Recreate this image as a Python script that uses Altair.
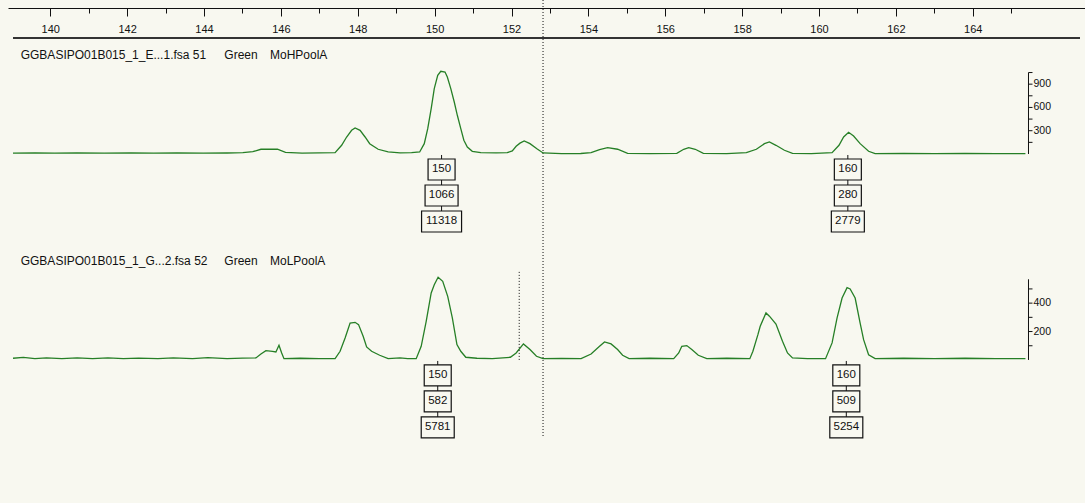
import altair as alt
import pandas as pd

# ---------------- size axis (bp) ----------------
x_min = 139.03          # left edge of the traces
x_max = 166.79          # right edge of the window
x_rfu_axis = 165.45     # where the RFU axes sit
cursor_bp = 152.82      # dotted cursor line

ruler_major = [140, 142, 144, 146, 148, 150, 152, 154, 156, 158, 160, 162, 164]
ruler_minor = [141, 143, 145, 147, 149, 151, 153, 155, 157, 159, 161, 163, 165]

# ---------------- sample 51 (MoHPoolA) ----------------
s1_name = "GGBASIPO01B015_1_E...1.fsa 51"
s1_dye = "Green"
s1_panel = "MoHPoolA"
s1_bp = [139.03, 139.60, 140.11, 140.70, 141.40, 142.10, 142.69, 143.30, 143.98, 144.60,
         145.01, 145.27, 145.48, 145.91, 146.12, 146.55, 147.00, 147.41, 147.58, 147.71,
         147.84, 147.93, 148.06, 148.19, 148.31, 148.53, 148.79, 149.10, 149.40, 149.61,
         149.73, 149.82, 149.91, 149.99, 150.08, 150.16, 150.27, 150.33, 150.42, 150.51,
         150.59, 150.68, 150.76, 150.85, 150.98, 151.20, 151.60, 151.89, 152.02, 152.12,
         152.22, 152.33, 152.48, 152.66, 152.82, 153.30, 153.80, 154.07, 154.29, 154.50,
         154.76, 155.02, 155.60, 156.30, 156.48, 156.61, 156.78, 156.99, 157.60, 158.11,
         158.37, 158.58, 158.71, 158.88, 159.10, 159.31, 159.80, 160.34, 160.52, 160.64,
         160.77, 160.90, 161.07, 161.29, 161.46, 162.20, 163.00, 163.80, 164.60, 165.37]
s1_rfu = [12, 14, 10, 14, 11, 14, 10, 13, 10, 13,
          17, 30, 61, 61, 22, 12, 14, 17, 112, 219,
          305, 335, 305, 219, 133, 61, 26, 14, 17, 26,
          133, 326, 584, 842, 1014, 1066, 1057, 993, 842, 670,
          499, 326, 177, 90, 35, 17, 14, 17, 40, 100,
          140, 168, 133, 68, 13, 5, 6, 17, 56, 81,
          61, 9, 5, 9, 61, 81, 61, 9, 5, 17,
          61, 133, 155, 112, 48, 9, 5, 17, 112, 219,
          280, 232, 133, 35, 4, 6, 5, 6, 5, 5]
s1_call_bp = [150.18, 160.75]
s1_size = ["150", "160"]
s1_height = ["1066", "280"]
s1_area = ["11318", "2779"]
s1_rfu_ticks = [150, 300, 450, 600, 750, 900, 1050]
s1_rfu_labels = ["300", "600", "900"]
s1_rfu_top = 1050

# ---------------- sample 52 (MoLPoolA) ----------------
s2_name = "GGBASIPO01B015_1_G...2.fsa 52"
s2_dye = "Green"
s2_panel = "MoLPoolA"
s2_bp = [139.03, 139.30, 139.60, 139.90, 140.30, 140.70, 141.10, 141.50, 141.90, 142.30,
         142.80, 143.20, 143.70, 144.10, 144.60, 145.00, 145.35, 145.48, 145.61, 145.78,
         145.87, 145.95, 146.02, 146.08, 146.50, 147.00, 147.41, 147.54, 147.67, 147.80,
         147.93, 148.02, 148.14, 148.23, 148.36, 148.57, 148.79, 149.10, 149.30, 149.52,
         149.65, 149.78, 149.91, 149.99, 150.09, 150.21, 150.34, 150.46, 150.58, 150.68,
         150.81, 151.10, 151.50, 151.97, 152.12, 152.31, 152.48, 152.65, 152.82, 153.30,
         153.81, 154.07, 154.29, 154.42, 154.59, 154.76, 154.89, 155.06, 155.60, 156.22,
         156.35, 156.43, 156.56, 156.69, 156.86, 157.08, 157.60, 158.20, 158.28, 158.41,
         158.47, 158.62, 158.71, 158.88, 159.05, 159.18, 159.31, 159.70, 160.17, 160.34,
         160.47, 160.60, 160.73, 160.81, 160.94, 161.07, 161.16, 161.29, 161.46, 162.20,
         163.00, 163.80, 164.60, 165.37]
s2_rfu = [12, 18, 10, 15, 9, 14, 10, 15, 9, 13,
          9, 14, 10, 16, 10, 13, 14, 42, 65, 61,
          56, 103, 49, 9, 12, 10, 9, 61, 155, 260,
          265, 249, 167, 92, 61, 33, 9, 14, 10, 9,
          96, 272, 472, 530, 582, 554, 448, 296, 108, 61,
          19, 12, 9, 19, 49, 113, 73, 26, 9, 11,
          9, 42, 96, 127, 113, 73, 33, 9, 12, 9,
          49, 96, 101, 73, 33, 9, 12, 9, 61, 178,
          237, 331, 308, 253, 132, 49, 14, 9, 9, 120,
          296, 436, 509, 500, 436, 260, 143, 37, 9, 12,
          9, 12, 9, 9]
s2_call_bp = [150.08, 160.71]
s2_size = ["150", "160"]
s2_height = ["582", "509"]
s2_area = ["5781", "5254"]
s2_rfu_ticks = [100, 200, 300, 400, 500]
s2_rfu_labels = ["200", "400"]
s2_rfu_top = 568
s2_bin_bp = [152.2]
s2_bin_top = [620]

# ---------------- styling ----------------
BG = "#f8f8f0"
TRACE = "#267f26"
INK = "#111111"
FONT = "Liberation Sans"

W, H = 1077, 503
ROW_OFFSETS = [15.5, 41.5, 67.5]    # label-box centres below the baseline (px)
BOX_H = 21
BOX_W = {3: 27, 4: 33, 5: 40}        # box width by number of digits

XS = alt.Scale(domain=[x_min, x_max], nice=False, zero=False)


def one_row():
    return pd.DataFrame({"k": [0]})


def ruler():
    major_axis = alt.Axis(orient="bottom", offset=8 - H, values=ruler_major, tickSize=8,
                          tickColor=INK, domainColor=INK, labelColor=INK, labelFont=FONT,
                          labelFontSize=11, labelPadding=7, grid=False, title=None,
                          labelFlush=False, labelOverlap=False)
    minor_axis = alt.Axis(orient="bottom", offset=8 - H, values=ruler_minor, tickSize=5,
                          tickColor=INK, labels=False, domain=False, grid=False, title=None)
    cur = pd.DataFrame({"bp": [cursor_bp]})
    cursor = alt.Chart(cur).mark_rule(color=INK, strokeDash=[1, 2]).encode(
        x=alt.X("bp:Q", scale=XS, axis=major_axis),
        y=alt.value(0), y2=alt.value(437))
    minor = alt.Chart(cur).mark_rule(opacity=0).encode(
        x=alt.X("bp:Q", scale=XS, axis=minor_axis),
        y=alt.value(0), y2=alt.value(1))
    edge = alt.Chart(one_row()).mark_rule(color="#333333", strokeWidth=2).encode(
        x=alt.X(datum=x_min, scale=XS, axis=None), x2=alt.X2(datum=x_max),
        y=alt.value(38))
    return alt.layer(cursor, minor, edge).resolve_axis(x="independent")


def panel(y_domain, header_y, bp, rfu, name, dye, pool, call_bp, size, hgt, area,
          ticks, labels, rfu_top, bin_bp=None, bin_top=None):
    ys = alt.Scale(domain=y_domain, nice=False, zero=False)

    def X(field="bp:Q"):
        return alt.X(field, scale=XS, axis=None)

    def Y0():
        return alt.Y(datum=0, scale=ys, axis=None)

    trace = alt.Chart(pd.DataFrame({"bp": bp, "rfu": rfu})).mark_line(
        color=TRACE, strokeWidth=1.3).encode(x=X(), y=alt.Y("rfu:Q", scale=ys, axis=None))
    layers = [trace]

    if bin_bp is not None:
        layers.append(alt.Chart(pd.DataFrame({"bp": bin_bp, "top": bin_top})).mark_rule(
            color=INK, strokeDash=[1, 2]).encode(
            x=X(), y=alt.Y("top:Q", scale=ys, axis=None), y2=alt.Y2(datum=0)))

    # RFU scale on the right: line, ticks and labels
    x_axis_pos = alt.X(datum=x_rfu_axis, scale=XS, axis=None)
    layers.append(alt.Chart(one_row()).mark_rule(color=INK).encode(
        x=x_axis_pos, y=Y0(), y2=alt.Y2(datum=rfu_top)))
    layers.append(alt.Chart(pd.DataFrame({"t": ticks})).mark_rule(
        color=INK, x2Offset=4).encode(
        x=x_axis_pos, x2=alt.X2(datum=x_rfu_axis), y=alt.Y("t:Q", scale=ys, axis=None)))
    layers.append(alt.Chart(pd.DataFrame({"lab": labels})).transform_calculate(
        v="toNumber(datum.lab)").mark_text(
        align="left", baseline="middle", dx=5, font=FONT, fontSize=10.5, color=INK).encode(
        x=x_axis_pos, y=alt.Y("v:Q", scale=ys, axis=None), text="lab:N"))

    # sample header
    for txt, px in [(name, 12.7), (dye, 216.3), (pool, 262.0)]:
        layers.append(alt.Chart(one_row()).mark_text(
            text=txt, align="left", baseline="middle", font=FONT, fontSize=12, color=INK
        ).encode(x=alt.value(px), y=alt.value(header_y)))

    # allele call boxes: size / peak height / area
    calls = pd.DataFrame({"bp": call_bp, "c_size": size, "c_peak": hgt, "c_area": area})
    layers.append(alt.Chart(calls).mark_rule(
        color=INK, yOffset=1, y2Offset=ROW_OFFSETS[-1] - BOX_H / 2).encode(
        x=X(), y=Y0(), y2=alt.Y2(datum=0)))
    for field, off in zip(["c_size", "c_peak", "c_area"], ROW_OFFSETS):
        for n, w in BOX_W.items():
            layers.append(alt.Chart(calls).transform_filter(
                f"length(datum.{field}) == {n}"
            ).mark_bar(width=w, yOffset=off - BOX_H / 2, y2Offset=off + BOX_H / 2,
                       fill=BG, stroke=INK, strokeWidth=1.2, orient="vertical").encode(
                x=X(), y=Y0(), y2=alt.Y2(datum=0)))
        layers.append(alt.Chart(calls).mark_text(
            yOffset=off, align="center", baseline="middle", font=FONT, fontSize=11.5, color=INK
        ).encode(x=X(), y=Y0(), text=alt.Text(f"{field}:N")))

    return alt.layer(*layers)


top = panel([-4499, 1985], 55, s1_bp, s1_rfu, s1_name, s1_dye, s1_panel,
            s1_call_bp, s1_size, s1_height, s1_area, s1_rfu_ticks, s1_rfu_labels, s1_rfu_top)
bottom = panel([-1007, 2534], 261, s2_bp, s2_rfu, s2_name, s2_dye, s2_panel,
               s2_call_bp, s2_size, s2_height, s2_area, s2_rfu_ticks, s2_rfu_labels, s2_rfu_top,
               bin_bp=s2_bin_bp, bin_top=s2_bin_top)

chart = alt.layer(ruler(), top, bottom).resolve_scale(y="independent").resolve_axis(
    x="independent", y="independent"
).properties(
    width=W, height=H,
    padding={"left": 8, "top": 0, "right": 0, "bottom": 0},
    autosize=alt.AutoSizeParams(type="none"),
    background=BG,
).configure_view(stroke=None)

chart.save("out.html", embed_options={"renderer": "svg", "actions": False})
